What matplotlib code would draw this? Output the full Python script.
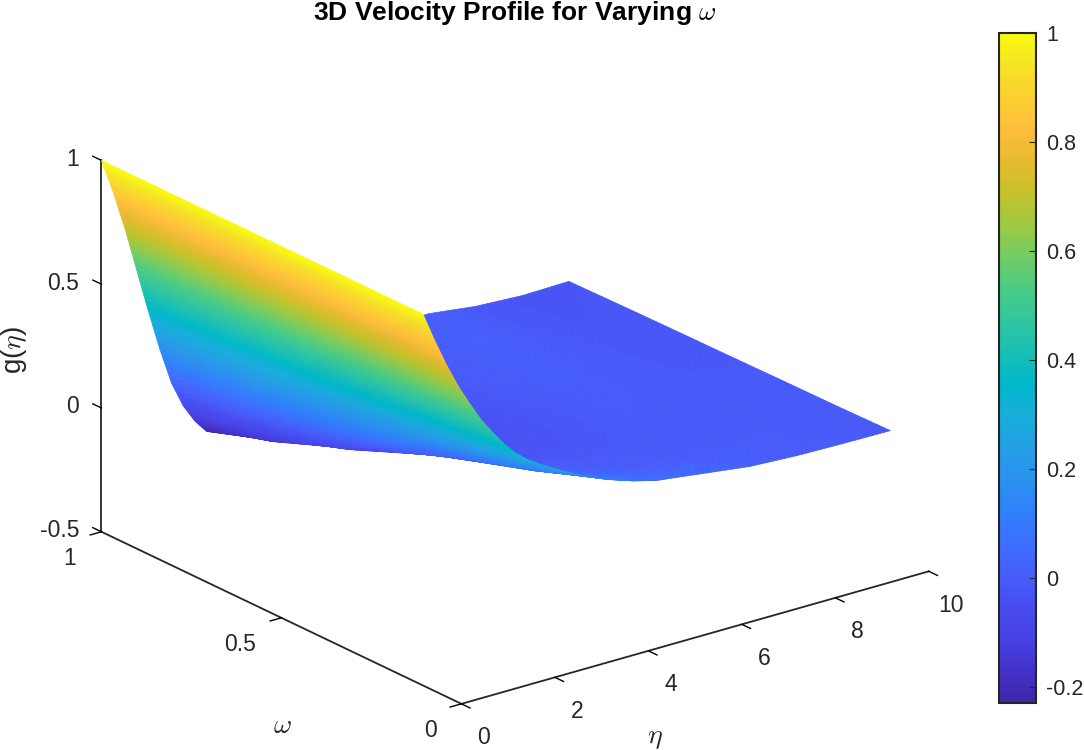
#!/usr/bin/env python3

import numpy as np
import matplotlib
matplotlib.use('Agg')
import matplotlib.pyplot as plt
from matplotlib.colors import LinearSegmentedColormap, Normalize
from matplotlib.cm import ScalarMappable

plt.rcParams['font.family'] = ['Liberation Sans', 'DejaVu Sans']
plt.rcParams['mathtext.fontset'] = 'cm'
plt.rcParams['axes.unicode_minus'] = False

# values
eta = [0, .25, .5, .75, 1, 1.25, 1.5, 1.75, 2, 2.25, 2.5, 3, 3.5, 4, 4.5, 5, 5.5, 6, 7, 8, 9, 10]
omega = [0.107, 0.25, 0.4, 0.55, 0.7, 0.85, 1]
g_w0 = [1, .88, .77, .67, .585, .505, .44, .38, .33, .29, .26, .205, .157, .117, .085, .06, .048, .035, .01, 0, -.004, -.006]
g_w1 = [1, .88, .765, .66, .555, .47, .4, .34, .285, .24, .2, .13, .08, .045, .022, .005, -.004, -.008, -.008, -.005, -.008, -.01]
g_w2 = [1, .88, .755, .64, .53, .43, .35, .28, .22, .17, .13, .06, .01, -.02, -.028, -.03, -.022, -.015, -.005, -.008, -.011, -.012]
g_w3 = [1, .875, .745, .615, .49, .38, .28, .2, .13, .07, .03, -.03, -.06, -.07, -.055, -.04, -.026, -.015, 0, -.008, -.014, -.015]
g_w4 = [1, .87, .73, .59, .45, .32, .2, .1, .02, -.04, -.08, -.12, -.11, -.09, -.055, -.03, -.015, -.005, .005, -.008, -.018, -.017]
g_w5 = [1, .865, .72, .56, .40, .25, .12, 0, -.09, -.14, -.165, -.16, -.12, -.08, -.045, -.02, -.008, 0, .008, -.012, -.024, -.02]
g_w6 = [1, .86, .70, .52, .34, .17, .02, -.085, -.16, -.215, -.225, -.19, -.14, -.09, -.055, -.03, -.012, 0, .006, -.018, -.028, -.024]

parula_colors = [
    (.2422, .1504, .6603), (.2647, .1978, .7952), (.2783, .2559, .8991), (.2813, .3006, .9414),
    (.2760, .3667, .9829), (.2440, .4358, .9988), (.1834, .5074, .9798), (.1687, .5703, .9359),
    (.1380, .6276, .8973), (.0952, .6798, .8598), (.0036, .7203, .7917), (.0964, .7500, .7120),
    (.1938, .7758, .6251), (.2906, .7973, .5188), (.4456, .8024, .3909), (.6174, .7876, .2612),
    (.7738, .7598, .1646), (.9035, .7330, .1774), (.9956, .7434, .2371), (.9892, .8122, .1900),
    (.9600, .8900, .1500), (.9763, .9831, .0538),
]
parula = LinearSegmentedColormap.from_list('parula', parula_colors, N=256)
norm = Normalize(-0.23, 1)

G = np.array([g_w0, g_w1, g_w2, g_w3, g_w4, g_w5, g_w6])

# matlab "shading interp": split each facet so the colour runs smooth,
# the shape stays the one given by the table above
def split_axis(vals, n=8):
    idx = np.arange(len(vals))
    fine = np.linspace(0, len(vals) - 1, (len(vals) - 1) * n + 1)
    return fine, idx

fi, ii = split_axis(eta)
fj, jj = split_axis(omega)
eta_f = np.interp(fi, ii, eta)
omega_f = np.interp(fj, jj, omega)
G_f = np.array([np.interp(fi, ii, row) for row in G])
G_f = np.array([np.interp(fj, jj, col) for col in G_f.T]).T
E, W = np.meshgrid(eta_f, omega_f)

W_PX, H_PX = 1084, 750
fig = plt.figure(figsize=(W_PX / 100, H_PX / 100), dpi=100)

side = 898
ax = fig.add_axes([54 / W_PX, -77 / H_PX, side / W_PX, side / H_PX], projection='3d', proj_type='ortho')
ax.view_init(elev=21.6, azim=-127.6)
ax.set_box_aspect((1, 1, 0.677))

surf = ax.plot_surface(E, W, G_f, rstride=1, cstride=1, cmap=parula, norm=norm,
                       linewidth=0.5, antialiased=True, shade=False)
surf.set_edgecolor('face')

ax.set_xlim(0, 10, view_margin=0)
ax.set_ylim(0, 1, view_margin=0)
ax.set_zlim(-0.5, 1, view_margin=0)
ax.set_xticks([0, 2, 4, 6, 8, 10])
ax.set_yticks([0, 0.5, 1])
ax.set_zticks([-0.5, 0, 0.5, 1])
ax.set_xticklabels(['0', '2', '4', '6', '8', '10'], va='center')
ax.set_yticklabels(['0', '0.5', '1'], va='center', ha='right')
ax.set_zticklabels(['-0.5', '0', '0.5', '1'], va='center', ha='right')
ax.grid(False)

dark = '#262626'
for axis in (ax.xaxis, ax.yaxis, ax.zaxis):
    axis.set_pane_color((1, 1, 1, 0))
    axis.pane.set_edgecolor((1, 1, 1, 0))
    axis.line.set_color(dark)
    axis.line.set_linewidth(1.3)
    # x and y sit on the near edges here, so "inward" points out of the box
    axis._axinfo['tick']['inward_factor'] = 0.3
    axis._axinfo['tick']['outward_factor'] = 0.0
    axis._axinfo['tick']['linewidth'] = {True: 1.0, False: 0.5}
    axis._axinfo['tick']['color'] = dark
# z ticks run along omega like in the reference
ax.zaxis._get_tickdir = lambda position: 1
ax.zaxis._axinfo['tick']['inward_factor'] = 0.0
ax.zaxis._axinfo['tick']['outward_factor'] = 0.3
ax.tick_params(axis='x', labelsize=16.5, labelcolor=dark, pad=13)
ax.tick_params(axis='y', labelsize=16.5, labelcolor=dark, pad=10)
ax.tick_params(axis='z', labelsize=16.5, labelcolor=dark, pad=1)

fig.text(655 / W_PX, 1 - 738 / H_PX, r'$\eta$', fontsize=20, color=dark, ha='center', va='center')
fig.text(282 / W_PX, 1 - 726 / H_PX, r'$\omega$', fontsize=20, color=dark, ha='center', va='center')
fig.text(14 / W_PX, 1 - 350 / H_PX, r'g($\eta$)', fontsize=20, color=dark, rotation=90, ha='center', va='center')

fig.text(515 / W_PX, 1 - 20 / H_PX, r'3D Velocity Profile for Varying $\omega$', ha='center', va='baseline',
         fontsize=19, fontweight='bold', color='black')

cax = fig.add_axes([999 / W_PX, 1 - 703 / H_PX, 37 / W_PX, 670 / H_PX])
cb = fig.colorbar(ScalarMappable(norm=norm, cmap=parula), cax=cax)
cb.set_ticks([-0.2, 0, 0.2, 0.4, 0.6, 0.8, 1])
cb.set_ticklabels(['-0.2', '0', '0.2', '0.4', '0.6', '0.8', '1'])
cb.ax.tick_params(direction='in', length=5, width=0.8, color=dark, labelcolor=dark, labelsize=15.5, pad=7.5)
cb.outline.set_edgecolor(dark)
cb.outline.set_linewidth(1.5)

fig.savefig('out.png', dpi=100)
